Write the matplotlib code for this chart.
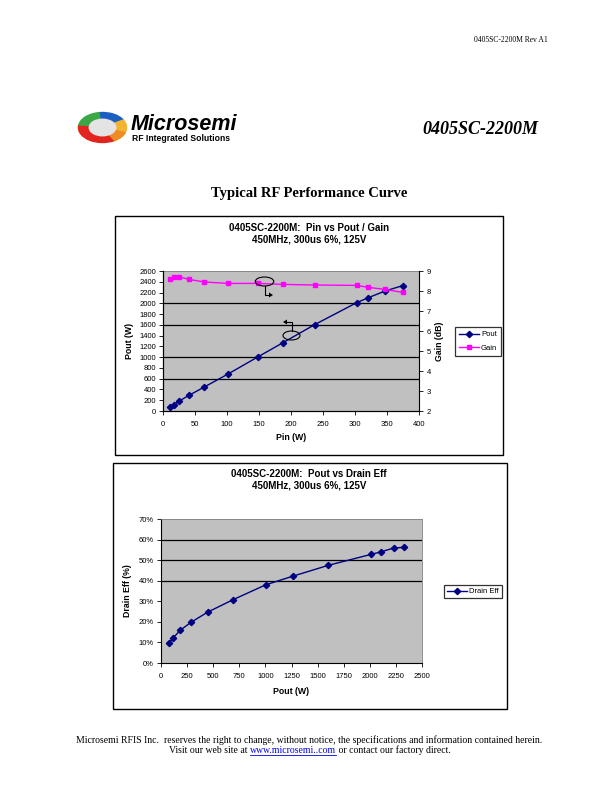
import matplotlib
matplotlib.use('Agg')
import matplotlib.pyplot as plt
from matplotlib.patches import Rectangle, Ellipse, Wedge, Polygon
from matplotlib.lines import Line2D

# ---- data ----
pin_w = [10.4, 17.2, 25.5, 40.6, 64.6, 101.6, 148, 187.5, 237, 302.6, 321, 347, 374.5]
pout_w = [74, 118, 186, 291, 446, 687, 1003, 1269, 1604, 2012, 2105, 2229, 2328]
gain_db = [8.62, 8.72, 8.70, 8.58, 8.45, 8.38, 8.38, 8.33, 8.30, 8.28, 8.18, 8.08, 7.93]
drain_eff = [0.097, 0.123, 0.160, 0.199, 0.247, 0.307, 0.380, 0.423, 0.475, 0.528, 0.540, 0.559, 0.562]

pin_ticks = list(range(0, 401, 50))
pout_ticks = list(range(0, 2601, 200))
gain_ticks = list(range(2, 10))
pout2_ticks = list(range(0, 2501, 250))
eff_ticks = [i / 10 for i in range(0, 8)]
eff_tick_labels = ['%d%%' % (i * 10) for i in range(0, 8)]

W, H = 612, 792
fig = plt.figure(figsize=(W / 100, H / 100), dpi=100)
SANS = 'Liberation Sans'
SERIF = 'Liberation Serif'
NAVY = '#000080'
MAG = '#ff00ff'
GRAY = '#c0c0c0'


def fx(x):
    return x / W


def fy(y):
    return 1 - y / H


def rect(x0, y0, x1, y1):
    return [fx(x0), fy(y1), (x1 - x0) / W, (y1 - y0) / H]


# ---- page header ----
fig.text(fx(548), fy(40), '0405SC-2200M Rev A1', family=SERIF, size=5.5, ha='right', va='center')

# logo ring
axl = fig.add_axes(rect(76, 111, 129, 144))
axl.set_xlim(-1.1, 1.1)
axl.set_ylim(-1.1, 1.1)
axl.axis('off')
ring = [(95, 175, '#3aa845'), (30, 95, '#1b5fc0'), (-60, 30, '#f2b431'), (175, 300, '#e2261f')]
for a0, a1, c in ring:
    axl.add_patch(Wedge((0, 0), 1.0, a0, a1, width=0.45, color=c))
axl.add_patch(Wedge((0, 0), 1.0, 300, 340, width=0.45, color='#f08a24'))
axl.add_patch(Ellipse((0.0, 0.0), 1.1, 1.1, color='#e4e4e4'))

fig.text(fx(131), fy(124), 'Microsemi', family=SANS, weight='bold', style='italic',
         size=15.5, ha='left', va='center', color='black')
fig.text(fx(132), fy(138.5), 'RF Integrated Solutions', family=SANS, weight='bold',
         size=6.2, ha='left', va='center', color='black')
fig.text(fx(480), fy(130), '0405SC-2200M', family=SERIF, weight='bold', style='italic',
         size=13, ha='center', va='center')
fig.text(fx(309), fy(193), 'Typical RF Performance Curve', family=SERIF, weight='bold',
         size=10.5, ha='center', va='center')

# chart frames
for (x0, y0, x1, y1) in [(115, 216, 503, 455), (113, 463, 507, 709)]:
    fig.add_artist(Rectangle((fx(x0), fy(y1)), (x1 - x0) / W, (y1 - y0) / H,
                             transform=fig.transFigure, fill=False, ec='black', lw=1.0))

# ---- top chart ----
ax1 = fig.add_axes(rect(163, 271, 419, 411))
ax1.set_facecolor(GRAY)
for v in [600, 1000, 1600, 2000]:
    ax1.axhline(v, color='black', lw=0.9, zorder=1)
ax1.plot(pin_w, pout_w, color=NAVY, marker='D', ms=3.2, lw=1.0, zorder=3, label='Pout')
ax1.set_xlim(0, 400)
ax1.set_ylim(0, 2600)
ax1.set_xticks(pin_ticks)
ax1.set_yticks(pout_ticks)
ax1.tick_params(labelsize=5.5, length=3, width=0.6, direction='out', pad=2)
for lab in ax1.get_xticklabels() + ax1.get_yticklabels():
    lab.set_family(SANS)
ax1.tick_params(axis='x', pad=4)
for s in ['top', 'right']:
    ax1.spines[s].set_color('#808080')
    ax1.spines[s].set_linewidth(0.6)
ax2 = ax1.twinx()
ax2.plot(pin_w, gain_db, color=MAG, marker='s', ms=3.5, lw=1.0, label='Gain')
ax2.set_ylim(2, 9)
ax2.set_yticks(gain_ticks)
ax2.tick_params(labelsize=5.5, length=3, width=0.6, direction='out', pad=2.5)
for lab in ax2.get_yticklabels():
    lab.set_family(SANS)
ax2.spines['right'].set_color('black')
ax2.spines['top'].set_visible(False)

fig.text(fx(309), fy(228), '0405SC-2200M:  Pin vs Pout / Gain', family=SANS, weight='bold',
         size=7, ha='center', va='center')
fig.text(fx(309), fy(240), '450MHz, 300us 6%, 125V', family=SANS, weight='bold',
         size=7, ha='center', va='center')
fig.text(fx(130), fy(341), 'Pout (W)', family=SANS, weight='bold', size=6.3,
         rotation=90, ha='center', va='center')
fig.text(fx(440), fy(341), 'Gain (dB)', family=SANS, weight='bold', size=6.3,
         rotation=90, ha='center', va='center')
fig.text(fx(291), fy(438), 'Pin (W)', family=SANS, weight='bold', size=6.3,
         ha='center', va='center')

h1 = Line2D([], [], color=NAVY, marker='D', ms=3.2, lw=1.0)
h2 = Line2D([], [], color=MAG, marker='s', ms=3.5, lw=1.0)
leg = fig.legend([h1, h2], ['Pout', 'Gain'], loc='center', bbox_to_anchor=(fx(478), fy(341.5)),
                 prop={'family': SANS, 'size': 5.5}, frameon=True, fancybox=False,
                 edgecolor='black', handlelength=2.6, borderpad=0.5, labelspacing=0.8,
                 handletextpad=0.3, borderaxespad=0)
leg.get_frame().set_linewidth(0.9)


# annotation ellipses with arrows
def arrow_path(pts, head_dir):
    xs = [fx(p[0]) for p in pts]
    ys = [fy(p[1]) for p in pts]
    fig.add_artist(Line2D(xs, ys, transform=fig.transFigure, color='black', lw=0.8))
    ex, ey = pts[-1]
    if head_dir == 'right':
        tri = [(ex + 4, ey), (ex, ey - 2.5), (ex, ey + 2.5)]
    else:
        tri = [(ex - 4, ey), (ex, ey - 2.5), (ex, ey + 2.5)]
    fig.add_artist(Polygon([(fx(a), fy(b)) for a, b in tri], closed=True,
                           transform=fig.transFigure, color='black', lw=0))


fig.add_artist(Ellipse((fx(264.5), fy(281.5)), 18.5 / W, 9 / H, transform=fig.transFigure,
                       fill=False, ec='black', lw=0.8))
arrow_path([(264.5, 286), (264.5, 295), (269, 295)], 'right')
fig.add_artist(Ellipse((fx(291.5), fy(335.5)), 17 / W, 9 / H, transform=fig.transFigure,
                       fill=False, ec='black', lw=0.8))
arrow_path([(291.5, 331), (291.5, 322), (287, 322)], 'left')

# ---- bottom chart ----
ax3 = fig.add_axes(rect(161, 519, 422, 663))
ax3.set_facecolor(GRAY)
for v in [0.4, 0.5, 0.6]:
    ax3.axhline(v, color='black', lw=0.9, zorder=1)
ax3.plot(pout_w, drain_eff, color=NAVY, marker='D', ms=3.2, lw=1.0, zorder=3)
ax3.set_xlim(0, 2500)
ax3.set_ylim(0, 0.7)
ax3.set_xticks(pout2_ticks)
ax3.set_yticks(eff_ticks)
ax3.set_yticklabels(eff_tick_labels)
ax3.tick_params(labelsize=5.5, length=3, width=0.6, direction='out', pad=2)
ax3.tick_params(axis='x', pad=4)
for lab in ax3.get_xticklabels() + ax3.get_yticklabels():
    lab.set_family(SANS)
for s in ['top', 'right']:
    ax3.spines[s].set_color('#808080')
    ax3.spines[s].set_linewidth(0.6)

fig.text(fx(309), fy(474), '0405SC-2200M:  Pout vs Drain Eff', family=SANS, weight='bold',
         size=7, ha='center', va='center')
fig.text(fx(309), fy(486), '450MHz, 300us 6%, 125V', family=SANS, weight='bold',
         size=7, ha='center', va='center')
fig.text(fx(127), fy(591), 'Drain Eff (%)', family=SANS, weight='bold', size=6.3,
         rotation=90, ha='center', va='center')
fig.text(fx(291), fy(691), 'Pout (W)', family=SANS, weight='bold', size=6.3,
         ha='center', va='center')
leg2 = fig.legend([h1], ['Drain Eff'], loc='center', bbox_to_anchor=(fx(473), fy(591.5)),
                  prop={'family': SANS, 'size': 5.5}, frameon=True, fancybox=False,
                  edgecolor='black', handlelength=2.6, borderpad=0.4,
                  handletextpad=0.3, borderaxespad=0)
leg2.get_frame().set_linewidth(0.9)

# ---- footer ----
fig.text(fx(309), fy(740), 'Microsemi RFIS Inc.  reserves the right to change, without notice, the specifications and information contained herein.',
         family=SERIF, size=7, ha='center', va='center')

renderer = fig.canvas.get_renderer()
parts = [('Visit our web site at ', 'black'), ('www.microsemi..com', '#0000ee'),
         (' or contact our factory direct.', 'black')]
texts = []
widths = []
for s, c in parts:
    t = fig.text(0, fy(750.5), s, family=SERIF, size=7, ha='left', va='center', color=c)
    texts.append(t)
    widths.append(t.get_window_extent(renderer).width)
total = sum(widths)
x = 310 - total / 2
for t, w in zip(texts, widths):
    t.set_x(fx(x))
    if t.get_color() == '#0000ee':
        fig.add_artist(Line2D([fx(x), fx(x + w)], [fy(755), fy(755)], transform=fig.transFigure,
                              color='#0000ee', lw=0.6))
    x += w

fig.savefig('out.png', dpi=100)
